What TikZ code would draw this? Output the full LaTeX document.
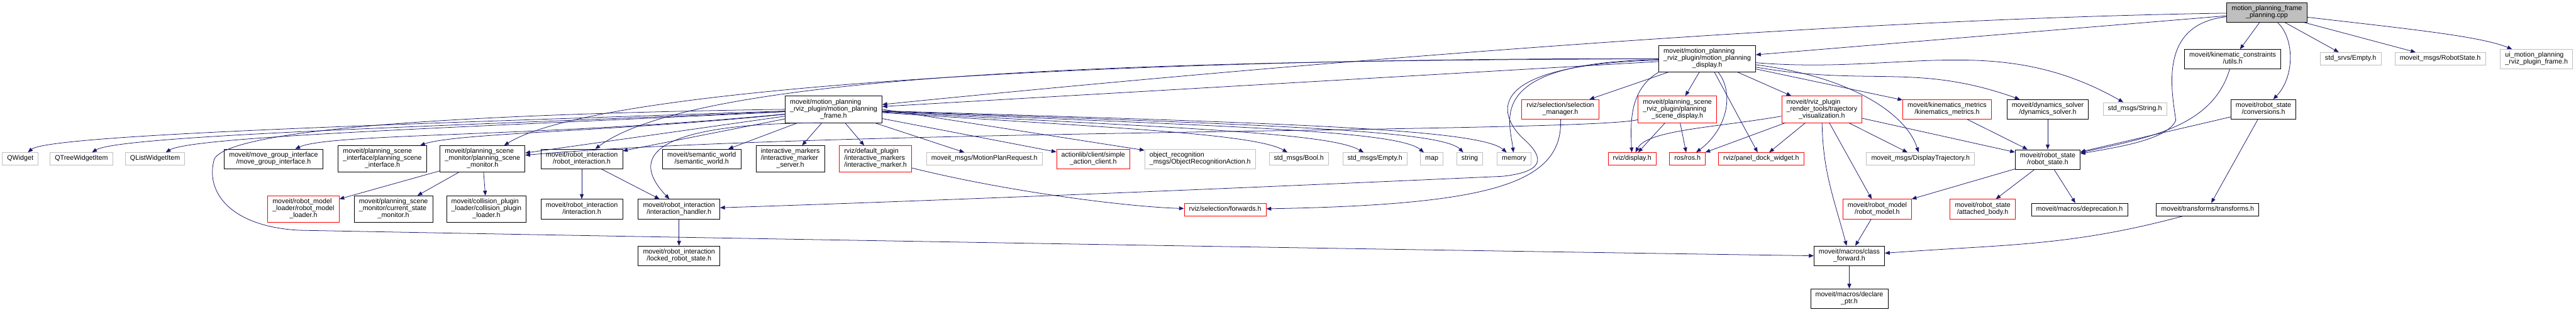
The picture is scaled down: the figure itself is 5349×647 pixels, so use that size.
\documentclass[tikz,border=0pt]{standalone}
\usepackage{fontspec}
\setmainfont{Liberation Sans}
\usepackage{tikz}
\usetikzlibrary{arrows.meta}
\definecolor{dgEdge}{HTML}{191970}
\definecolor{dgGrey}{HTML}{BFBFBF}
\definecolor{dgRed}{HTML}{FF0000}
\newcommand{\onelab}[1]{\begin{tabular}{@{}c@{}}#1\end{tabular}}
\newcommand{\twolab}[2]{\begin{tabular}{@{}l@{}}#1\\\multicolumn{1}{@{}c@{}}{#2}\end{tabular}}
\tikzset{
  docbox/.style={draw=black,fill=white,line width=1pt,inner xsep=10pt,inner ysep=6pt},
  redbox/.style={docbox,draw=dgRed},
  extbox/.style={docbox,draw=dgGrey},
  rootbox/.style={docbox,fill=dgGrey},
  arrow/.style={-{Triangle[length=10pt,width=8pt]},line width=1pt,draw=dgEdge}
}
\begin{document}
\begin{tikzpicture}[x=1pt,y=1pt,font=\fontsize{14}{14}\selectfont]
  \useasboundingbox (0,0) rectangle (5349,-647);

  % top rows
  \node[rootbox] (root) at (4707,-26) {\twolab{motion\_planning\_frame}{\_planning.cpp}};
  \node[docbox] (display) at (3545,-122) {\twolab{moveit/motion\_planning\\\_rviz\_plugin/motion\_planning}{\_display.h}};
  \node[docbox] (kinutils) at (4636,-123) {\twolab{moveit/kinematic\_constraints}{/utils.h}};
  \node[extbox] (srvempty) at (4881,-122) {\onelab{std\_srvs/Empty.h}};
  \node[extbox] (rsmsg) at (5067,-122) {\onelab{moveit\_msgs/RobotState.h}};
  \node[extbox] (uiframe) at (5267,-123) {\twolab{ui\_motion\_planning}{\_rviz\_plugin\_frame.h}};

  \node[docbox] (frame) at (1731,-227) {\twolab{moveit/motion\_planning\\\_rviz\_plugin/motion\_planning}{\_frame.h}};
  \node[redbox] (selmgr) at (3240,-227) {\twolab{rviz/selection/selection}{\_manager.h}};
  \node[redbox] (psdisplay) at (3483,-227) {\twolab{moveit/planning\_scene\\\_rviz\_plugin/planning}{\_scene\_display.h}};
  \node[redbox] (trajvis) at (3783,-227) {\twolab{moveit/rviz\_plugin\\\_render\_tools/trajectory}{\_visualization.h}};
  \node[redbox] (kinmetrics) at (4043,-227) {\twolab{moveit/kinematics\_metrics}{/kinematics\_metrics.h}};
  \node[docbox] (dynsolver) at (4252,-227) {\twolab{moveit/dynamics\_solver}{/dynamics\_solver.h}};
  \node[extbox] (strmsg) at (4433,-226) {\onelab{std\_msgs/String.h}};
  \node[docbox] (rsconv) at (4700,-227) {\twolab{moveit/robot\_state}{/conversions.h}};

  % middle row
  \node[extbox] (qwidget) at (42,-330) {\onelab{QWidget}};
  \node[extbox] (qtree) at (169,-330) {\onelab{QTreeWidgetItem}};
  \node[extbox] (qlist) at (322,-330) {\onelab{QListWidgetItem}};
  \node[docbox] (mgi) at (568,-330) {\twolab{moveit/move\_group\_interface}{/move\_group\_interface.h}};
  \node[docbox] (psi) at (794,-330) {\twolab{moveit/planning\_scene\\\_interface/planning\_scene}{\_interface.h}};
  \node[docbox] (psm) at (1002,-330) {\twolab{moveit/planning\_scene\\\_monitor/planning\_scene}{\_monitor.h}};
  \node[docbox] (ri) at (1208,-330) {\twolab{moveit/robot\_interaction}{/robot\_interaction.h}};
  \node[docbox] (sw) at (1457,-330) {\twolab{moveit/semantic\_world}{/semantic\_world.h}};
  \node[docbox] (ims) at (1641,-330) {\twolab{interactive\_markers\\/interactive\_marker}{\_server.h}};
  \node[redbox] (imm) at (1818,-330) {\twolab{rviz/default\_plugin\\/interactive\_markers}{/interactive\_marker.h}};
  \node[extbox] (mpr) at (2044,-330) {\onelab{moveit\_msgs/MotionPlanRequest.h}};
  \node[redbox] (sac) at (2270,-330) {\twolab{actionlib/client/simple}{\_action\_client.h}};
  \node[extbox] (ora) at (2492,-330) {\twolab{object\_recognition}{\_msgs/ObjectRecognitionAction.h}};
  \node[extbox] (boolmsg) at (2697,-330) {\onelab{std\_msgs/Bool.h}};
  \node[extbox] (emptymsg) at (2855,-330) {\onelab{std\_msgs/Empty.h}};
  \node[extbox] (map) at (2973,-330) {\onelab{map}};
  \node[extbox] (string) at (3052,-330) {\onelab{string}};
  \node[extbox] (memory) at (3144,-330) {\onelab{memory}};
  \node[redbox] (rvizdisplay) at (3389,-330) {\onelab{rviz/display.h}};
  \node[redbox] (ros) at (3504,-330) {\onelab{ros/ros.h}};
  \node[redbox] (panel) at (3657,-330) {\onelab{rviz/panel\_dock\_widget.h}};
  \node[extbox] (disptraj) at (3988,-330) {\onelab{moveit\_msgs/DisplayTrajectory.h}};
  \node[docbox] (robotstate) at (4252,-331) {\twolab{moveit/robot\_state}{/robot\_state.h}};

  % lower rows
  \node[redbox] (rml) at (630,-434) {\twolab{moveit/robot\_model\\\_loader/robot\_model}{\_loader.h}};
  \node[docbox] (csm) at (817,-434) {\twolab{moveit/planning\_scene\\\_monitor/current\_state}{\_monitor.h}};
  \node[docbox] (cpl) at (1010,-434) {\twolab{moveit/collision\_plugin\\\_loader/collision\_plugin}{\_loader.h}};
  \node[docbox] (inter) at (1208,-434) {\twolab{moveit/robot\_interaction}{/interaction.h}};
  \node[docbox] (handler) at (1410,-434) {\twolab{moveit/robot\_interaction}{/interaction\_handler.h}};
  \node[redbox] (fwd) at (2544,-435) {\onelab{rviz/selection/forwards.h}};
  \node[redbox] (robotmodel) at (3898,-434) {\twolab{moveit/robot\_model}{/robot\_model.h}};
  \node[redbox] (attached) at (4117,-434) {\twolab{moveit/robot\_state}{/attached\_body.h}};
  \node[docbox] (deprec) at (4318,-435) {\onelab{moveit/macros/deprecation.h}};
  \node[docbox] (transforms) at (4584,-435) {\onelab{moveit/transforms/transforms.h}};
  \node[docbox] (locked) at (1410,-531) {\twolab{moveit/robot\_interaction}{/locked\_robot\_state.h}};
  \node[docbox] (classfwd) at (3840,-531) {\twolab{moveit/macros/class}{\_forward.h}};
  \node[docbox] (declare) at (3840,-620) {\twolab{moveit/macros/declare}{\_ptr.h}};

  % includes of the .cpp
  \draw[arrow] (root) .. controls (3800,-40) and (2700,-130) .. (frame);
  \draw[arrow] (root) -- (display);
  \draw[arrow] (root) -- (kinutils);
  \draw[arrow] (root) .. controls (4765,-80) and (4765,-160) .. (rsconv);
  \draw[arrow] (root) -- (srvempty);
  \draw[arrow] (root) -- (rsmsg);
  \draw[arrow] (root) .. controls (5000,-60) and (5150,-75) .. (uiframe);
  \draw[arrow] (root) .. controls (4480,-50) and (4510,-190) .. (4518,-250) .. controls (4500,-290) and (4400,-305) .. (robotstate);
  \draw[arrow] (kinutils) .. controls (4595,-260) and (4470,-285) .. (robotstate);
  \draw[arrow] (rsconv) -- (robotstate);
  \draw[arrow] (rsconv) -- (transforms);

  % display header
  \draw[arrow] (display) -- (frame);
  \draw[arrow] (display) .. controls (2400,-120) and (1250,-175) .. (psm);
  \draw[arrow] (display) .. controls (2400,-125) and (1450,-150) .. (ri);
  \draw[arrow] (display) .. controls (3080,-135) and (3110,-235) .. (3160,-285) .. controls (3200,-320) and (3220,-355) .. (3120,-366) .. controls (2700,-385) and (2000,-415) .. (handler);
  \draw[arrow] (display) .. controls (3080,-130) and (3135,-250) .. (memory);
  \draw[arrow] (display.south west) .. controls (3385,-185) and (3385,-250) .. (rvizdisplay);
  \draw[arrow] (display) .. controls (3600,-190) and (3590,-265) .. (ros);
  \draw[arrow] (display) -- (panel);
  \draw[arrow] (display) .. controls (3850,-160) and (3960,-240) .. (disptraj);
  \draw[arrow] (display) -- (selmgr);
  \draw[arrow] (display) -- (psdisplay);
  \draw[arrow] (display) -- (trajvis);
  \draw[arrow] (display) -- (kinmetrics);
  \draw[arrow] (display) .. controls (3880,-180) and (3980,-130) .. (dynsolver);
  \draw[arrow] (display) .. controls (3950,-155) and (4150,-65) .. (strmsg);

  % frame header
  \draw[arrow] (frame) .. controls (927,-255) and (103,-278) .. (qwidget);
  \draw[arrow] (frame) .. controls (980,-260) and (250,-280) .. (qtree);
  \draw[arrow] (frame) .. controls (1030,-262) and (400,-282) .. (qlist);
  \draw[arrow] (frame) .. controls (1130,-285) and (685,-276) .. (mgi);
  \draw[arrow] (frame) .. controls (1280,-273) and (945,-276) .. (psi);
  \draw[arrow] (frame) -- (psm);
  \draw[arrow] (frame) -- (ri);
  \draw[arrow] (frame) -- (sw);
  \draw[arrow] (frame) -- (ims);
  \draw[arrow] (frame) -- (imm);
  \draw[arrow] (frame) -- (mpr);
  \draw[arrow] (frame) -- (sac);
  \draw[arrow] (frame.east) -- (ora);
  \draw[arrow] (frame) .. controls (2300,-265) and (2605,-277) .. (boolmsg);
  \draw[arrow] (frame) .. controls (2430,-265) and (2760,-275) .. (emptymsg);
  \draw[arrow] (frame) .. controls (2530,-262) and (2900,-270) .. (map);
  \draw[arrow] (frame) .. controls (2580,-258) and (2990,-268) .. (string);
  \draw[arrow] (frame) .. controls (2630,-255) and (3070,-266) .. (memory);
  \draw[arrow] (frame.240) .. controls (1340,-255) and (1310,-330) .. (handler);
  \draw[arrow] (frame.west) .. controls (1000,-236) and (480,-265) .. (445,-330) .. controls (425,-400) and (480,-470) .. (620,-478) .. controls (1500,-495) and (3000,-520) .. (classfwd.west);

  % the rest
  \draw[arrow] (psdisplay) .. controls (3300,-275) and (1700,-268) .. (psm);
  \draw[arrow] (psdisplay) -- (rvizdisplay);
  \draw[arrow] (psdisplay) -- (ros);
  \draw[arrow] (trajvis) .. controls (3560,-265) and (3420,-270) .. (rvizdisplay);
  \draw[arrow] (trajvis) -- (ros);
  \draw[arrow] (trajvis) -- (panel);
  \draw[arrow] (trajvis) -- (disptraj);
  \draw[arrow] (trajvis) -- (robotmodel);
  \draw[arrow] (trajvis) .. controls (3785,-356) and (3808,-412) .. (classfwd);
  \draw[arrow] (trajvis) -- (robotstate);
  \draw[arrow] (kinmetrics) -- (robotstate);
  \draw[arrow] (dynsolver) -- (robotstate);
  \draw[arrow] (selmgr) .. controls (3245,-380) and (3100,-425) .. (fwd);
  \draw[arrow] (imm) .. controls (2100,-400) and (2350,-430) .. (fwd);
  \draw[arrow] (psm) -- (rml);
  \draw[arrow] (psm) -- (csm);
  \draw[arrow] (psm) -- (cpl);
  \draw[arrow] (ri) -- (inter);
  \draw[arrow] (ri) -- (handler);
  \draw[arrow] (handler) -- (locked);
  \draw[arrow] (robotstate) -- (robotmodel);
  \draw[arrow] (robotstate) -- (attached);
  \draw[arrow] (robotstate) -- (deprec);
  \draw[arrow] (robotmodel) -- (classfwd);
  \draw[arrow] (transforms) .. controls (4296,-512) and (4167,-507) .. (classfwd);
  \draw[arrow] (classfwd) -- (declare);
\end{tikzpicture}
\end{document}
